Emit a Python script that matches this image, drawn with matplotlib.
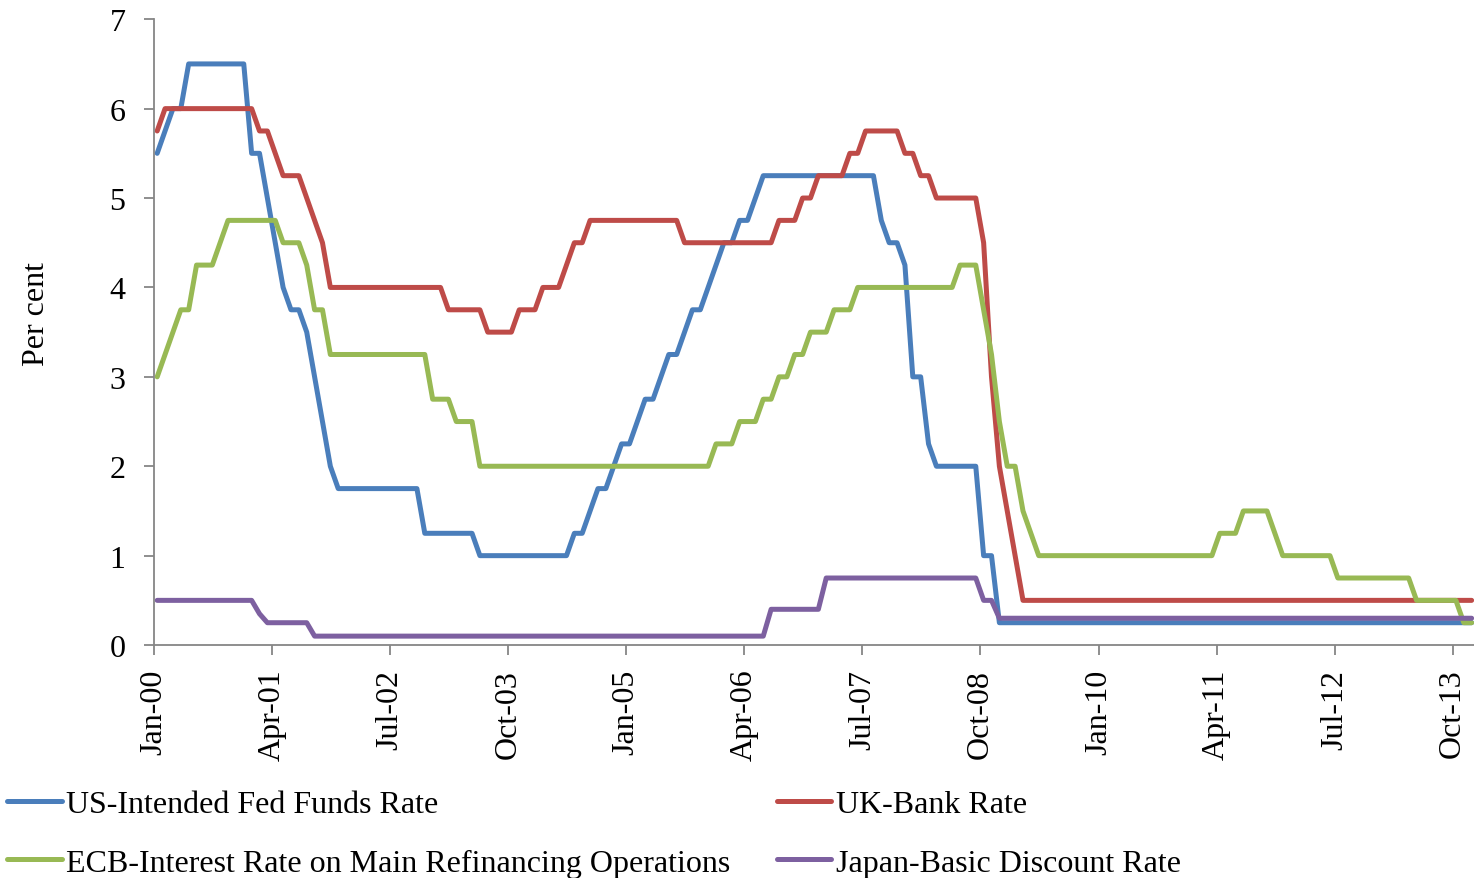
import numpy as np
import matplotlib
matplotlib.use("Agg")
import matplotlib.pyplot as plt

plt.rcParams['font.family'] = ['Liberation Serif', 'DejaVu Serif']

# monthly policy rates, Jan 2000 .. Dec 2013 (one row per year)
fed = [
    5.5, 5.75, 6.0, 6.0, 6.5, 6.5, 6.5, 6.5, 6.5, 6.5, 6.5, 6.5,
    5.5, 5.5, 5.0, 4.5, 4.0, 3.75, 3.75, 3.5, 3.0, 2.5, 2.0, 1.75,
    1.75, 1.75, 1.75, 1.75, 1.75, 1.75, 1.75, 1.75, 1.75, 1.75, 1.25, 1.25,
    1.25, 1.25, 1.25, 1.25, 1.25, 1.0, 1.0, 1.0, 1.0, 1.0, 1.0, 1.0,
    1.0, 1.0, 1.0, 1.0, 1.0, 1.25, 1.25, 1.5, 1.75, 1.75, 2.0, 2.25,
    2.25, 2.5, 2.75, 2.75, 3.0, 3.25, 3.25, 3.5, 3.75, 3.75, 4.0, 4.25,
    4.5, 4.5, 4.75, 4.75, 5.0, 5.25, 5.25, 5.25, 5.25, 5.25, 5.25, 5.25,
    5.25, 5.25, 5.25, 5.25, 5.25, 5.25, 5.25, 5.25, 4.75, 4.5, 4.5, 4.25,
    3.0, 3.0, 2.25, 2.0, 2.0, 2.0, 2.0, 2.0, 2.0, 1.0, 1.0, 0.25,
] + [0.25] * 60

uk = [
    5.75, 6.0, 6.0, 6.0, 6.0, 6.0, 6.0, 6.0, 6.0, 6.0, 6.0, 6.0,
    6.0, 5.75, 5.75, 5.5, 5.25, 5.25, 5.25, 5.0, 4.75, 4.5, 4.0, 4.0,
    4.0, 4.0, 4.0, 4.0, 4.0, 4.0, 4.0, 4.0, 4.0, 4.0, 4.0, 4.0,
    4.0, 3.75, 3.75, 3.75, 3.75, 3.75, 3.5, 3.5, 3.5, 3.5, 3.75, 3.75,
    3.75, 4.0, 4.0, 4.0, 4.25, 4.5, 4.5, 4.75, 4.75, 4.75, 4.75, 4.75,
    4.75, 4.75, 4.75, 4.75, 4.75, 4.75, 4.75, 4.5, 4.5, 4.5, 4.5, 4.5,
    4.5, 4.5, 4.5, 4.5, 4.5, 4.5, 4.5, 4.75, 4.75, 4.75, 5.0, 5.0,
    5.25, 5.25, 5.25, 5.25, 5.5, 5.5, 5.75, 5.75, 5.75, 5.75, 5.75, 5.5,
    5.5, 5.25, 5.25, 5.0, 5.0, 5.0, 5.0, 5.0, 5.0, 4.5, 3.0, 2.0,
    1.5, 1.0, 0.5, 0.5, 0.5, 0.5, 0.5, 0.5, 0.5, 0.5, 0.5, 0.5,
] + [0.5] * 48

ecb = [
    3.0, 3.25, 3.5, 3.75, 3.75, 4.25, 4.25, 4.25, 4.5, 4.75, 4.75, 4.75,
    4.75, 4.75, 4.75, 4.75, 4.5, 4.5, 4.5, 4.25, 3.75, 3.75, 3.25, 3.25,
    3.25, 3.25, 3.25, 3.25, 3.25, 3.25, 3.25, 3.25, 3.25, 3.25, 3.25, 2.75,
    2.75, 2.75, 2.5, 2.5, 2.5, 2.0, 2.0, 2.0, 2.0, 2.0, 2.0, 2.0,
    2.0, 2.0, 2.0, 2.0, 2.0, 2.0, 2.0, 2.0, 2.0, 2.0, 2.0, 2.0,
    2.0, 2.0, 2.0, 2.0, 2.0, 2.0, 2.0, 2.0, 2.0, 2.0, 2.0, 2.25,
    2.25, 2.25, 2.5, 2.5, 2.5, 2.75, 2.75, 3.0, 3.0, 3.25, 3.25, 3.5,
    3.5, 3.5, 3.75, 3.75, 3.75, 4.0, 4.0, 4.0, 4.0, 4.0, 4.0, 4.0,
    4.0, 4.0, 4.0, 4.0, 4.0, 4.0, 4.25, 4.25, 4.25, 3.75, 3.25, 2.5,
    2.0, 2.0, 1.5, 1.25, 1.0, 1.0, 1.0, 1.0, 1.0, 1.0, 1.0, 1.0,
    1.0, 1.0, 1.0, 1.0, 1.0, 1.0, 1.0, 1.0, 1.0, 1.0, 1.0, 1.0,
    1.0, 1.0, 1.0, 1.25, 1.25, 1.25, 1.5, 1.5, 1.5, 1.5, 1.25, 1.0,
    1.0, 1.0, 1.0, 1.0, 1.0, 1.0, 0.75, 0.75, 0.75, 0.75, 0.75, 0.75,
    0.75, 0.75, 0.75, 0.75, 0.5, 0.5, 0.5, 0.5, 0.5, 0.5, 0.25, 0.25,
]

japan = (
    [0.5] * 12
    + [0.5, 0.35, 0.25, 0.25, 0.25, 0.25, 0.25, 0.25, 0.1, 0.1, 0.1, 0.1]
    + [0.1] * 48
    + [0.1, 0.1, 0.1, 0.1, 0.1, 0.1, 0.4, 0.4, 0.4, 0.4, 0.4, 0.4]
    + [0.4] + [0.75] * 11
    + [0.75] * 9 + [0.5, 0.5, 0.3]
    + [0.3] * 60
)

series_names = ["US-Intended Fed Funds Rate", "UK-Bank Rate",
                "ECB-Interest Rate on Main Refinancing Operations",
                "Japan-Basic Discount Rate"]
colors = ["#4A7EBB", "#BE4B48", "#98B954", "#7D60A0"]

tick_labels = ["Jan-00", "Apr-01", "Jul-02", "Oct-03", "Jan-05", "Apr-06",
               "Jul-07", "Oct-08", "Jan-10", "Apr-11", "Jul-12", "Oct-13"]

x = np.arange(len(fed)) + 0.4  # points sit a bit after the month tick

fig = plt.figure(figsize=(14.74, 8.79), dpi=100)
ax = fig.add_axes([0.1045, 0.265, 0.8955, 0.712])

lines = []
for vals, name, c in zip([fed, uk, ecb, japan], series_names, colors):
    ln, = ax.plot(x, vals, color=c, lw=3.6, label=name,
                  solid_joinstyle="round", solid_capstyle="round")
    lines.append(ln)

ax.set_xlim(0, 167.7)
ax.set_ylim(0, 7)
ax.set_yticks(range(8))
ax.set_xticks(np.arange(len(tick_labels)) * 15)
ax.set_xticklabels(tick_labels, rotation=90)

for s in ["top", "right"]:
    ax.spines[s].set_visible(False)
for s in ["left", "bottom"]:
    ax.spines[s].set_color("#868686")
    ax.spines[s].set_linewidth(1.3)

ax.tick_params(axis="y", direction="out", length=7.5, width=1.3,
               color="#868686", labelsize=23, pad=13)
ax.tick_params(axis="x", direction="out", length=7, width=1.3,
               color="#868686", labelsize=23, pad=10)

ax.set_ylabel("Per cent", fontsize=23)
ax.yaxis.set_label_coords(-0.078, 0.53)

# legend reads row-wise: US, UK / ECB, Japan
order = [0, 2, 1, 3]
fig.legend([lines[i] for i in order], [series_names[i] for i in order],
           loc="upper left", bbox_to_anchor=(0.005, 0.100), ncol=2,
           frameon=False, fontsize=23, handlelength=1.7, handletextpad=0.15,
           columnspacing=1.45, labelspacing=0.9, borderpad=0,
           borderaxespad=0)

fig.savefig("out.png", dpi=100)
